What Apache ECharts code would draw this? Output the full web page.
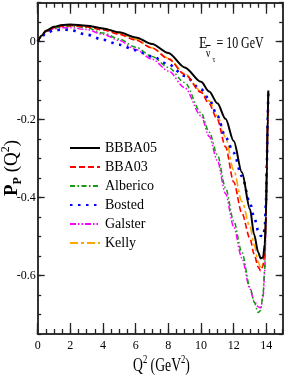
<!DOCTYPE html>
<html>
<head>
<meta charset="utf-8">
<script src="https://cdn.jsdelivr.net/npm/echarts@6/dist/echarts.min.js"></script>
<style>
html,body{margin:0;padding:0;background:#fff;}
#chart{width:284px;height:382px;}
</style>
</head>
<body>
<div id="chart"></div>
<script>
// Q^2 sample points (GeV^2)
const qValues = [0,0.25,0.5,1,1.5,2,3,4,5,6,7,8,9,10,10.5,11,11.5,12,12.5,13,13.25,13.5,13.65,13.8,13.9,13.97,14.03,14.08,14.12];
// P_P(Q^2) for each form-factor parametrisation
const bbba05   = [0,0.016,0.028,0.038,0.043,0.044,0.041,0.034,0.024,0.011,-0.006,-0.029,-0.066,-0.103,-0.128,-0.158,-0.198,-0.255,-0.335,-0.43,-0.495,-0.54,-0.556,-0.553,-0.52,-0.45,-0.32,-0.2,-0.125];
const bba03    = [0,0.015,0.027,0.036,0.040,0.041,0.038,0.030,0.019,0.004,-0.016,-0.044,-0.084,-0.13,-0.16,-0.2,-0.27,-0.36,-0.44,-0.505,-0.545,-0.578,-0.588,-0.575,-0.54,-0.46,-0.33,-0.21,-0.13];
const alberico = [0,0.015,0.026,0.035,0.039,0.040,0.036,0.022,0.007,-0.014,-0.038,-0.066,-0.105,-0.182,-0.232,-0.29,-0.375,-0.46,-0.54,-0.63,-0.668,-0.695,-0.69,-0.645,-0.58,-0.48,-0.34,-0.21,-0.13];
const bosted   = [0,0.013,0.022,0.029,0.031,0.030,0.018,0.005,-0.008,-0.022,-0.038,-0.058,-0.088,-0.122,-0.148,-0.19,-0.245,-0.285,-0.345,-0.415,-0.45,-0.485,-0.498,-0.5,-0.48,-0.42,-0.31,-0.2,-0.12];
const galster  = [0,0.014,0.025,0.033,0.036,0.036,0.031,0.019,0.003,-0.02,-0.045,-0.075,-0.118,-0.19,-0.243,-0.305,-0.39,-0.475,-0.555,-0.635,-0.665,-0.68,-0.683,-0.655,-0.59,-0.49,-0.34,-0.21,-0.13];
const kelly    = [0,0.016,0.028,0.037,0.041,0.042,0.040,0.033,0.022,0.006,-0.016,-0.042,-0.082,-0.127,-0.152,-0.19,-0.245,-0.33,-0.41,-0.475,-0.52,-0.565,-0.58,-0.57,-0.53,-0.45,-0.33,-0.21,-0.13];
const seriesNames = ['BBBA05','BBA03','Alberico','Bosted','Galster','Kelly'];
const xMajorTicks = [0,2,4,6,8,10,12,14];
const yMajorTicks = [0,-0.2,-0.4,-0.6];

const FONT = '"Liberation Serif","Times New Roman",serif';
const chart = echarts.init(document.getElementById('chart'), null, {renderer:'canvas'});

const axisLineStyle = {color:'#333', width:2};
function xAx(pos, major, labels){
  return {
    type:'value', min:0, max:15, position:pos,
    interval: major ? 2 : 0.5,
    axisLine:{show:!major, onZero:false, lineStyle:axisLineStyle},
    axisTick:{show:true, inside:true, length: major?11:5, lineStyle:{color:'#222', width:1.3},
              customValues: major ? xMajorTicks : undefined},
    axisLabel:{show:labels, margin:6, color:'#000', fontFamily:FONT, fontSize:12,
               customValues: major ? xMajorTicks : undefined},
    splitLine:{show:false}
  };
}
function yAx(pos, major, labels){
  return {
    type:'value', min:-0.75, max:0.1, position:pos,
    interval: major ? 0.2 : 0.05,
    axisLine:{show:!major, onZero:false, lineStyle:axisLineStyle},
    axisTick:{show:true, inside:true, length: major?7:3.5, lineStyle:{color:'#222', width:1.3},
              customValues: major ? yMajorTicks : undefined},
    axisLabel:{show:labels, margin:2, color:'#000', fontFamily:FONT, fontSize:12,
               customValues: major ? yMajorTicks : undefined,
               formatter: v => (Math.abs(v) < 1e-9 ? '0' : String(Math.round(v*10)/10))},
    splitLine:{show:false}
  };
}

function mk(name, arr, color, width, type, z){
  return {
    name, type:'line', xAxisIndex:0, yAxisIndex:0,
    data: qValues.map((q,i)=>[q, arr[i]]),
    showSymbol:false, symbol:'none', smooth:0.3, smoothMonotone:'x',
    lineStyle:{color, width, type}, itemStyle:{color}, z, clip:true
  };
}

const option = {
  animation:false,
  backgroundColor:'#fff',
  grid:{left:37.7, right:1.3, top:2.7, bottom:48, outerBoundsMode:'none', containLabel:false},
  xAxis:[xAx('bottom',false,false), xAx('bottom',true,true), xAx('top',false,false), xAx('top',true,false)],
  yAxis:[yAx('left',false,false), yAx('left',true,true), yAx('right',false,false), yAx('right',true,false)],
  legend:{
    orient:'vertical', left:64, top:136, itemWidth:30, itemHeight:14, itemGap:5,
    data: seriesNames,
    itemStyle:{opacity:0, borderWidth:0},
    textStyle:{fontFamily:FONT, fontSize:14, color:'#000'}
  },
  series:[
    mk(seriesNames[0], bbba05, '#000000', 2, 'solid', 7),
    mk(seriesNames[1], bba03, '#ff0000', 1.6, [6,3], 6),
    mk(seriesNames[2], alberico, '#139a13', 1.5, [5,2.5,1.5,2.5], 5),
    mk(seriesNames[3], bosted, '#0000ff', 2.6, [2.5,5.5], 4),
    mk(seriesNames[4], galster, '#ff00ff', 1.5, [6,2,1.5,2,1.5,2], 3),
    mk(seriesNames[5], kelly, '#ffa500', 1.6, [8,3,3,3], 2)
  ],
  graphic:[
    // annotation E_{nu-bar tau} = 10 GeV
    {type:'text', x:199, y:44, scaleX:0.8, style:{text:'E', font:'17px '+FONT, fill:'#000', textAlign:'left', textVerticalAlign:'middle', align:'left', verticalAlign:'middle'}},
    {type:'line', shape:{x1:205.5, y1:45.5, x2:210.5, y2:45.5}, style:{stroke:'#000', lineWidth:1}},
    {type:'text', x:206, y:54, scaleX:0.8, style:{text:'ν', font:'12px '+FONT, fill:'#000', textAlign:'left', textVerticalAlign:'middle', align:'left', verticalAlign:'middle'}},
    {type:'text', x:212.5, y:60, scaleX:0.8, style:{text:'τ', font:'9px '+FONT, fill:'#000', textAlign:'left', textVerticalAlign:'middle', align:'left', verticalAlign:'middle'}},
    {type:'text', x:216.5, y:44, scaleX:0.7, style:{text:'= 10 GeV', font:'17px '+FONT, fill:'#000', textAlign:'left', textVerticalAlign:'middle', align:'left', verticalAlign:'middle'}},
    // x axis title
    {type:'text', x:133, y:366, scaleX:0.72, style:{
      text:'{m|Q}{s|2}{m| (GeV}{s|2}{m|)}', fill:'#000', textAlign:'left', textVerticalAlign:'middle', align:'left', verticalAlign:'middle',
      rich:{m:{fontFamily:FONT, fontSize:19, lineHeight:24, fill:'#000', color:'#000'}, s:{fontFamily:FONT, fontSize:12, lineHeight:14, verticalAlign:'top', fill:'#000', color:'#000'}}
    }},
    // y axis title (rotated)
    {type:'text', x:12, y:168, rotation:Math.PI/2, style:{
      text:'{b|P}{bs|P}{m| (Q}{s|2}{m|)}', fill:'#000', textAlign:'center', textVerticalAlign:'middle', align:'center', verticalAlign:'middle',
      rich:{
        b:{fontFamily:FONT, fontSize:19, fontWeight:'bold', lineHeight:24, color:'#000'},
        bs:{fontFamily:FONT, fontSize:12, fontWeight:'bold', lineHeight:14, verticalAlign:'bottom', color:'#000'},
        m:{fontFamily:FONT, fontSize:19, lineHeight:24, color:'#000'},
        s:{fontFamily:FONT, fontSize:12, lineHeight:14, verticalAlign:'top', color:'#000'}
      }
    }}
  ]
};
chart.setOption(option);
</script>
</body>
</html>
